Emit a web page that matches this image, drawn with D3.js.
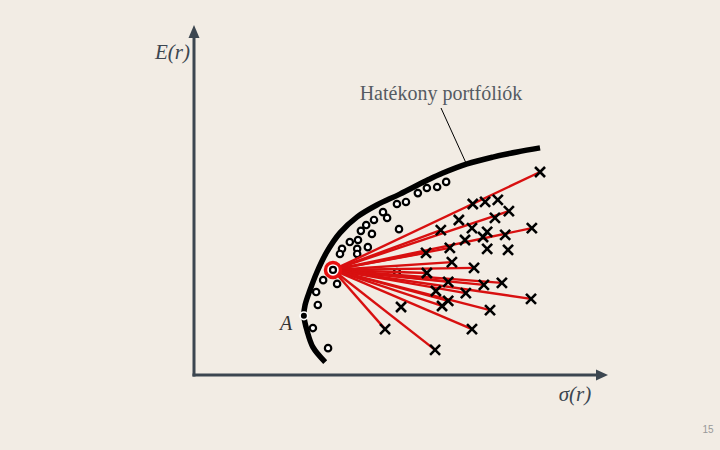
<!DOCTYPE html>
<html><head><meta charset="utf-8">
<script src="https://cdn.jsdelivr.net/npm/d3@7"></script>
<style>html,body{margin:0;padding:0;background:#f2ece4;}svg{display:block;}</style>
</head><body>
<svg id="c" width="720" height="450"></svg>
<script>
// Efficient frontier (sigma, E)
const frontier = [
  [3.20,0.38],[2.90,0.82],[2.76,1.29],[2.68,1.74],[2.71,2.06],[2.83,2.50],[3.00,3.03],
  [3.24,3.62],[3.56,4.18],[3.98,4.65],[4.46,5.00],[5.02,5.32],[5.71,5.74],[6.07,5.94],
  [6.66,6.21],[7.29,6.41],[7.88,6.56],[8.44,6.68]
];
// Portfolios shown as circles
const circles = [
  [6.15,5.68],[5.93,5.53],[5.68,5.50],[5.46,5.35],[5.17,5.09],[4.95,5.03],[4.61,4.79],
  [4.71,4.62],[4.39,4.56],[4.20,4.41],[5.00,4.29],[4.34,4.15],[4.07,4.24],[4.00,3.97],
  [3.80,3.91],[4.24,3.76],[3.98,3.71],[3.98,3.56],[3.61,3.71],[3.56,3.56],[3.15,2.79],
  [3.49,2.68],[2.98,2.44],[3.02,2.06],[2.90,1.38],[3.27,0.79],[4.95,3.03]
];
// Portfolios shown as crosses
const crosses = [
  [8.44,5.97],[6.80,5.03],[7.10,5.09],[7.41,5.15],[7.68,4.82],[7.34,4.62],[6.46,4.56],
  [6.02,4.26],[6.78,4.32],[7.15,4.21],[7.05,4.06],[6.61,3.97],[7.59,4.12],[8.24,4.32],
  [7.15,3.71],[7.66,3.68],[6.24,3.74],[5.66,3.59],[6.29,3.32],[6.83,3.15],[5.68,3.00],
  [6.20,2.74],[7.07,2.65],[7.51,2.71],[5.90,2.47],[6.63,2.41],[6.20,2.18],[6.05,2.03],
  [8.22,2.24],[7.22,1.91],[5.05,2.00],[6.78,1.35],[4.66,1.35],[5.88,0.74]
];
// Minimum-variance portfolio and combinations drawn from it
const minVar = [3.39,3.09];
const lineTargets = [
  [8.44,5.97],[7.68,4.82],[8.24,4.32],[6.02,4.26],[5.66,3.59],[6.24,3.74],[6.29,3.32],[6.83,3.15],
  [5.68,3.00],[6.20,2.74],[7.51,2.71],[7.07,2.65],[8.22,2.24],[6.63,2.41],[7.22,1.91],[6.05,2.03],
  [6.20,2.18],[6.78,1.35],[5.88,0.74],[4.66,1.35]
];
const pointA = [2.68,1.74];
const labels = {y:"E(r)", x:"σ(r)", note:"Hatékony portfóliók", a:"A", page:"15"};

const serif = "'Liberation Serif','DejaVu Serif',serif";
const svg = d3.select("#c");
const x = d3.scaleLinear().domain([0,10]).range([194,604]);
const y = d3.scaleLinear().domain([0,10]).range([375,35]);
const axisCol = "#3c4650";

// axes
svg.append("line").attr("x1",x(0)).attr("y1",y(0)+1.5).attr("x2",x(0)).attr("y2",36)
  .attr("stroke",axisCol).attr("stroke-width",3);
svg.append("path").attr("d",`M${x(0)-5.5},38 L${x(0)},25 L${x(0)+5.5},38 Z`).attr("fill",axisCol);
svg.append("line").attr("x1",x(0)-1.5).attr("y1",y(0)).attr("x2",597).attr("y2",y(0))
  .attr("stroke",axisCol).attr("stroke-width",3);
svg.append("path").attr("d",`M596,${y(0)-5.5} L608,${y(0)} L596,${y(0)+5.5} Z`).attr("fill",axisCol);

svg.append("text").attr("x",190).attr("y",59).attr("text-anchor","end")
  .attr("font-family",serif).attr("font-style","italic").attr("font-size",21)
  .attr("fill",axisCol).text(labels.y);
svg.append("text").attr("x",575).attr("y",401).attr("text-anchor","middle")
  .attr("font-family",serif).attr("font-style","italic").attr("font-size",21)
  .attr("fill",axisCol).text(labels.x);

// frontier
svg.append("path").datum(frontier)
  .attr("d", d3.line().x(d=>x(d[0])).y(d=>y(d[1])).curve(d3.curveCatmullRom))
  .attr("fill","none").attr("stroke","#000").attr("stroke-width",5.5);

// annotation
svg.append("text").attr("x",441).attr("y",100).attr("text-anchor","middle")
  .attr("font-family",serif).attr("font-size",20).attr("fill","#555b62").text(labels.note);
svg.append("line").attr("x1",441).attr("y1",108).attr("x2",466).attr("y2",163)
  .attr("stroke","#000").attr("stroke-width",1);

// circles
svg.append("g").selectAll("circle").data(circles).join("circle")
  .attr("cx",d=>x(d[0])).attr("cy",d=>y(d[1])).attr("r",3.2)
  .attr("fill","#fff").attr("stroke","#000").attr("stroke-width",2.2);

// red lines
svg.append("g").selectAll("line").data(lineTargets).join("line")
  .attr("x1",x(minVar[0])).attr("y1",y(minVar[1]))
  .attr("x2",d=>x(d[0])).attr("y2",d=>y(d[1]))
  .attr("stroke","#d81010").attr("stroke-width",2.4);

// crosses
const s = 5;
svg.append("g").selectAll("path").data(crosses).join("path")
  .attr("d",d=>{const cx=x(d[0]), cy=y(d[1]);
    return `M${cx-s},${cy-s}L${cx+s},${cy+s}M${cx-s},${cy+s}L${cx+s},${cy-s}`;})
  .attr("stroke","#000").attr("stroke-width",2.6).attr("fill","none");

// min var ring
svg.append("circle").attr("cx",x(minVar[0])).attr("cy",y(minVar[1])).attr("r",7.5)
  .attr("fill","#fff").attr("stroke","#e81010").attr("stroke-width",3.5);
svg.append("circle").attr("cx",x(minVar[0])).attr("cy",y(minVar[1])).attr("r",3)
  .attr("fill","#fff").attr("stroke","#000").attr("stroke-width",2.2);

// point A
svg.append("circle").attr("cx",x(pointA[0])).attr("cy",y(pointA[1])).attr("r",3.8)
  .attr("fill","#000").attr("stroke","#fff").attr("stroke-width",1.6);
svg.append("text").attr("x",286).attr("y",330).attr("text-anchor","middle")
  .attr("font-family",serif).attr("font-style","italic").attr("font-size",20)
  .attr("fill","#333").text(labels.a);

svg.append("text").attr("x",708).attr("y",433).attr("text-anchor","middle")
  .attr("font-family","'Liberation Sans',sans-serif").attr("font-size",10).attr("fill","#999").text(labels.page);
</script>
</body></html>
